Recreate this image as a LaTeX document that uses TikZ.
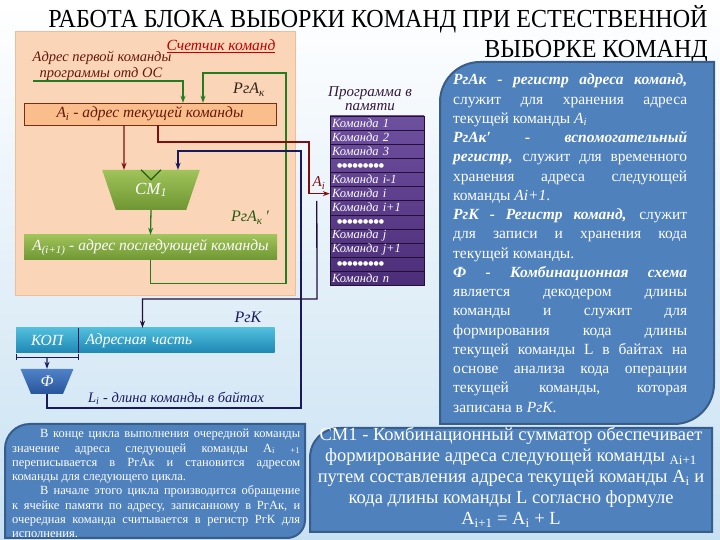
\documentclass[tikz,border=0pt]{standalone}
\usepackage{fontspec}
\setmainfont{Liberation Serif}
\newfontfamily\dotfont{DejaVu Sans}
\usetikzlibrary{arrows.meta,shapes.geometric}

\definecolor{colPeach}{RGB}{250,213,184}
\definecolor{colPeachLine}{RGB}{240,190,150}
\definecolor{colOrange}{RGB}{250,190,140}
\definecolor{colBrownLine}{RGB}{120,45,20}
\definecolor{colBrown}{RGB}{100,25,10}
\definecolor{colRed}{RGB}{192,0,0}
\definecolor{colDark}{RGB}{50,35,25}
\definecolor{colGreenTop}{RGB}{160,195,90}
\definecolor{colGreenBot}{RGB}{110,150,50}
\definecolor{colGreenLine}{RGB}{35,125,30}
\definecolor{colDarkGreen}{RGB}{40,90,20}
\definecolor{colDarkRed}{RGB}{125,15,15}
\definecolor{colNavy}{RGB}{25,25,95}
\definecolor{colPlum}{RGB}{50,25,60}
\definecolor{colPurpleTop}{RGB}{110,80,160}
\definecolor{colPurpleBot}{RGB}{75,45,120}
\definecolor{colPurpleLine}{RGB}{35,15,55}
\definecolor{colTealTop}{RGB}{80,190,220}
\definecolor{colTealBot}{RGB}{30,135,180}
\definecolor{colFiTop}{RGB}{80,130,200}
\definecolor{colFiBot}{RGB}{40,85,155}
\definecolor{colBlue}{RGB}{79,129,189}
\definecolor{colBlueLine}{RGB}{56,93,138}
\definecolor{colSky}{RGB}{200,225,242}

\newcommand{\lowi}[1]{\textsubscript{#1}}
\newcommand{\memdots}{{\dotfont\fontsize{6}{6}\selectfont\hspace*{5pt}●●●●●●●●●}}

\begin{document}
\begin{tikzpicture}[x=1pt, y=1pt,
    titletext/.style={inner sep=0pt, font=\fontsize{26}{30}\selectfont},
    notetext/.style={inner sep=0pt, font=\fontsize{14.5}{16}\selectfont\itshape},
    regbox/.style={inner sep=0pt, font=\fontsize{15.5}{17}\selectfont\itshape},
    memrow/.style={draw=colPurpleLine, text=white, text width=90pt, inner xsep=2pt, inner ysep=0pt,
        minimum height=14.07pt, align=left, font=\fontsize{12.5}{13}\selectfont\itshape},
    grarrow/.style={draw=colGreenLine, line width=1.3pt, -{Stealth[length=7pt,width=5pt]}},
    mrarrow/.style={draw=colDarkRed, line width=1.3pt, -{Stealth[length=7pt,width=5pt]}},
    nvarrow/.style={draw=colNavy, line width=1.3pt, -{Stealth[length=7pt,width=5pt]}},
    plarrow/.style={draw=colPurpleLine, line width=1.3pt, -{Stealth[length=7pt,width=5pt]}},
    nvthin/.style={draw=colNavy, line width=0.9pt},
    rtext/.style={inner sep=0pt, text=white, text width=234pt, align=justify,
        font=\fontsize{15.5}{19.24}\selectfont},
    btext/.style={inner sep=0pt, text=white, text width=288pt, align=justify,
        font=\fontsize{12.5}{14.3}\selectfont},
    ctext/.style={inner sep=0pt, text=white, align=center,
        font=\fontsize{18.5}{21}\selectfont}]
    \useasboundingbox (0,0) rectangle (720,540);
    \shade[top color=white, bottom color=colSky] (0,0) rectangle (720,540);

    \node[titletext, anchor=base] (title1) at (378,512) {\scalebox{0.925}[1]{РАБОТА БЛОКА ВЫБОРКИ КОМАНД ПРИ ЕСТЕСТВЕННОЙ}};
    \node[titletext, anchor=base east] (title2) at (708,482) {\scalebox{0.925}[1]{ВЫБОРКЕ КОМАНД}};

    \node[draw=colPeachLine, line width=1pt, fill=colPeach, minimum width=280pt, minimum height=264pt, inner sep=0pt] (panel) at (155,376) {};
    \node[notetext, text=colRed, font=\fontsize{15.5}{17}\selectfont\itshape] (counter) at (221,494) {\underline{Счетчик команд}};
    \node[notetext, text=colBrown] (osaddr1) at (102,482) {Адрес первой команды};
    \node[notetext, text=colBrown] (osaddr2) at (101,466) {программы отд ОС};
    \node[notetext, text=colDark, font=\fontsize{16}{17}\selectfont\itshape] (rgak) at (249,450) {РгА\lowi{к}};
    \node[regbox, fill=colOrange, draw=colBrownLine, text=colBrown, minimum width=252pt, minimum height=22pt] (ai) at (150,426) {A\lowi{i} - адрес текущей команды};
    \node[trapezium, shape border rotate=180, trapezium angle=66, trapezium stretches=true,
        minimum width=98pt, minimum height=40pt, inner sep=0pt, top color=colGreenTop, bottom color=colGreenBot,
        text=white, font=\fontsize{17}{18}\selectfont\itshape] (cm) at (151,350) {CM\lowi{1}};
    \draw[colDarkGreen, line width=1.2pt] ([xshift=-10pt]cm.north) -- ([yshift=-10pt]cm.north) -- ([xshift=10pt]cm.north);
    \node[notetext, text=colDarkGreen, font=\fontsize{16}{17}\selectfont\itshape] (rgakp) at (250,322) {РгА\lowi{к}\,′};
    \node[regbox, top color=colGreenTop, bottom color=colGreenBot, text=white, minimum width=253pt, minimum height=25pt] (anext) at (150.5,292.5) {A\lowi{(i+1)} - адрес последующей команды};

    \node[notetext, text=colNavy, font=\fontsize{16}{17}\selectfont\itshape] (rgk) at (248,223) {РгК};
    \node[regbox, top color=colTealTop, bottom color=colTealBot, text=white, minimum width=62pt, minimum height=25pt] (kop) at (47,199.5) {КОП};
    \node[regbox, top color=colTealTop, bottom color=colTealBot, text=white, minimum height=25pt, text width=174pt, inner xsep=15pt, align=left] (addr) at (172.5,199.5) {Адресная часть};
    \draw[nvthin] (kop.north east) -- (kop.south east);
    \draw[nvthin] ([xshift=1pt,yshift=-1pt]kop.south west) -- ++(0,-6);
    \draw[nvthin] ([yshift=-1pt]kop.south east) -- ++(0,-6);
    \draw[nvthin] ([xshift=1pt,yshift=-4pt]kop.south west) -- ([yshift=-4pt]kop.south east);
    \node[trapezium, shape border rotate=180, trapezium angle=68, trapezium stretches=true,
        minimum width=53pt, minimum height=25pt, inner sep=0pt, top color=colFiTop, bottom color=colFiBot,
        text=white, font=\fontsize{16}{17}\selectfont\itshape] (fi) at (47,158.5) {Ф};
    \node[notetext, text=colNavy] (lenlab) at (176,142) {L\lowi{i} - длина команды в байтах};

    \node[notetext, text=colPlum, align=center, font=\fontsize{15}{14}\selectfont\itshape] (prog) at (370,441) {Программа в\\памяти};
    \shade[top color=colPurpleTop, bottom color=colPurpleBot] (330,255) rectangle (424,424);
    \foreach \txt [count=\k] in {Команда 1, Команда 2, Команда 3, \memdots, Команда i-1, Команда i,
        Команда i+1, \memdots, Команда j, Команда j+1, \memdots, Команда n}
        \node[memrow] (m\k) at (377,{416.7-14.07*(\k-1)}) {\txt};
    \node[notetext, text=colDarkRed, font=\fontsize{15}{16}\selectfont\itshape] (ailab) at (319,357) {A\lowi{i}};

    \coordinate (osin) at (33,459);
    \coordinate (grturn) at (286,467);
    \coordinate (mrturn) at (309,398);
    \coordinate (nvbot) at (301,132);
    \coordinate (nvtop) at (301,389);
    \coordinate (pturn) at (317,241);
    \draw[grarrow] (osin) -| ([xshift=33pt]ai.north);
    \draw[grarrow] (anext.south) -- ++(0,-23) -| (grturn) -| ([xshift=53pt]ai.north);
    \draw[grarrow] (cm.south) -- (anext.north);
    \draw[mrarrow] ([xshift=-26pt]ai.south) -- ([xshift=-27pt]cm.north);
    \draw[mrarrow] ([xshift=8pt]ai.south) |- (mrturn) |- (m6.west);
    \draw[nvarrow] (fi.south) |- (nvbot) -- (nvtop) -| ([xshift=27pt]cm.north);
    \draw[plarrow] ([xshift=-13pt]m6.south west) -- (pturn) -| ([xshift=-30pt]addr.north);
    \draw[nvarrow] ([yshift=-4pt]kop.south) -- (fi.north);

    \path[draw=colBlueLine, line width=2pt, fill=colBlue]
        (440,116) -- (440,438) .. controls (440,460) and (458,478) .. (480,478)
        -- (714,478) -- (714,156) .. controls (714,134) and (696,116) .. (674,116) -- cycle;
    \node[rtext, anchor=north west] (rinfo) at (453,466) {%
        \textbf{\textit{РгАк - регистр адреса команд,}}\linebreak
        служит для хранения адреса\linebreak
        текущей команды \textit{A}\lowi{\textit{i}}\par
        \textbf{\textit{РгАк′ - вспомогательный}}\linebreak
        \textbf{\textit{регистр,}} служит для временного\linebreak
        хранения адреса следующей\linebreak
        команды \textit{Ai+1}.\par
        \textbf{\textit{РгК - Регистр команд,}} служит\linebreak
        для записи и хранения кода\linebreak
        текущей команды.\par
        \textbf{\textit{Ф - Комбинационная схема}}\linebreak
        является декодером длины\linebreak
        команды и служит для\linebreak
        формирования кода длины\linebreak
        текущей команды L в байтах на\linebreak
        основе анализа кода операции\linebreak
        текущей команды, которая\linebreak
        записана в \textit{РгК}.};

    \path[draw=colBlueLine, line width=2pt, fill=colBlue]
        (5,2) -- (5,91) .. controls (5,105) and (16,116) .. (30,116)
        -- (305,116) -- (305,20) .. controls (305,10) and (297,2) .. (287,2) -- cycle;
    \node[btext, anchor=north west] (cycle) at (12,111) {%
        \hspace*{28pt}В конце цикла выполнения очередной команды\linebreak
        значение адреса следующей команды A\lowi{i} \lowi{+1}\linebreak
        переписывается в РгАк и становится адресом\linebreak
        команды для следующего цикла.\par
        \hspace*{28pt}В начале этого цикла производится обращение\linebreak
        к ячейке памяти по адресу, записанному в РгАк, и\linebreak
        очередная команда считывается в регистр РгК для\linebreak
        исполнения.};

    \path[draw=colBlueLine, line width=2pt, fill=colBlue]
        (310,8) -- (310,82) .. controls (310,99) and (323,112) .. (340,112)
        -- (712,112) -- (712,8) -- cycle;
    \node[ctext, anchor=north] (cmnote) at (511,113) {%
        СМ1 - Комбинационный сумматор обеспечивает\\
        формирование адреса следующей команды \lowi{Ai+1}\\
        путем составления адреса текущей команды A\lowi{i} и\\
        кода длины команды L согласно формуле\\
        A\lowi{i+1} = A\lowi{i} + L};
\end{tikzpicture}
\end{document}
